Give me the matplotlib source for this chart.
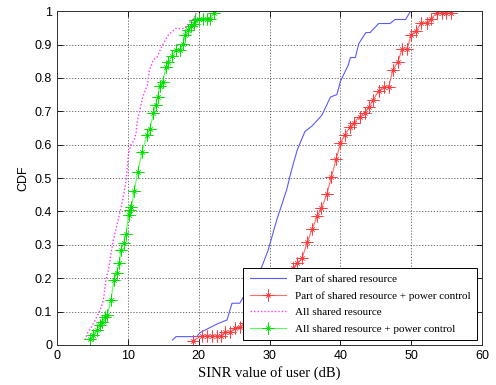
import numpy as np
import matplotlib
matplotlib.use("Agg")
import matplotlib.pyplot as plt
from matplotlib.path import Path

# CDF curves (x = SINR in dB, y = CDF)
part_x = [16.3, 16.8, 19.7, 20.2, 21.4, 22.6, 24.0, 24.7, 25.8, 27.3, 28.9, 29.8, 31.0,
          32.4, 33.1, 33.9, 35.0, 36.0, 37.4, 38.6, 39.5, 40.0, 41.1, 41.4, 42.1, 42.6,
          43.6, 44.2, 45.4, 47.0, 47.7, 49.2, 49.9]
part_y = [0.015, 0.025, 0.025, 0.037, 0.05, 0.063, 0.075, 0.125, 0.125, 0.18, 0.234, 0.284,
          0.374, 0.464, 0.524, 0.584, 0.64, 0.656, 0.689, 0.743, 0.75, 0.79, 0.838, 0.861,
          0.861, 0.903, 0.936, 0.936, 0.963, 0.963, 0.975, 0.975, 1.0]

part_pc_x = [19.2, 20.4, 21.1, 21.9, 22.6, 23.1, 23.7, 24.4, 25.1, 25.8, 26.6, 27.5, 28.5,
             29.5, 30.5, 31.5, 32.5, 33.3, 33.9, 34.6, 35.3, 36.0, 36.7, 37.3, 38.1, 38.7,
             39.4, 40.0, 40.6, 41.4, 41.9, 42.7, 43.4, 44.0, 44.6, 45.4, 46.1, 46.8, 47.4,
             48.1, 48.7, 49.4, 50.0, 50.7, 51.4, 52.2, 52.8, 53.6, 54.3, 54.9, 55.6]
part_pc_y = [0.013, 0.027, 0.027, 0.027, 0.027, 0.027, 0.038, 0.038, 0.05, 0.055, 0.065,
             0.08, 0.11, 0.14, 0.17, 0.19, 0.21, 0.23, 0.245, 0.26, 0.307, 0.346, 0.386,
             0.409, 0.452, 0.502, 0.556, 0.604, 0.629, 0.654, 0.666, 0.684, 0.696, 0.712,
             0.734, 0.761, 0.773, 0.773, 0.823, 0.848, 0.886, 0.886, 0.93, 0.941, 0.965,
             0.965, 0.978, 0.995, 0.995, 0.995, 0.995]

all_x = [3.95, 4.4, 4.9, 5.4, 6.1, 6.55, 6.9, 7.25, 7.7, 7.95, 8.4, 8.9, 9.4, 9.75, 10.1,
         10.4, 10.9, 11.15, 11.35, 11.6, 12.1, 12.75, 13.05, 13.6, 14.1, 14.55, 15.0,
         15.7, 16.7, 18.1, 18.55, 19.3, 19.5, 19.75]
all_y = [0.015, 0.04, 0.055, 0.075, 0.105, 0.135, 0.195, 0.225, 0.284, 0.314, 0.354, 0.399,
         0.449, 0.494, 0.574, 0.599, 0.614, 0.634, 0.674, 0.694, 0.743, 0.778, 0.823,
         0.855, 0.861, 0.883, 0.903, 0.928, 0.948, 0.948, 0.963, 0.978, 0.988, 1.0]

all_pc_x = [4.66, 5.1, 5.6, 6.0, 6.3, 6.8, 7.1, 7.6, 8.05, 8.4, 8.8, 9.0, 9.4, 9.75, 10.1,
            10.3, 10.5, 10.9, 11.4, 12.0, 12.7, 13.1, 13.6, 13.9, 14.2, 14.5, 14.9, 15.4,
            15.7, 16.2, 16.8, 17.4, 17.8, 18.1, 18.5, 18.9, 19.3, 19.5, 20.0, 20.6, 21.1,
            21.6, 22.1]
all_pc_y = [0.017, 0.03, 0.045, 0.06, 0.07, 0.083, 0.09, 0.135, 0.195, 0.217, 0.245, 0.284,
            0.305, 0.331, 0.39, 0.404, 0.412, 0.462, 0.519, 0.579, 0.629, 0.646, 0.694,
            0.719, 0.743, 0.775, 0.788, 0.833, 0.848, 0.865, 0.885, 0.885, 0.903, 0.928,
            0.945, 0.955, 0.963, 0.973, 0.978, 0.978, 0.978, 0.978, 0.995]

labels = ["Part of shared resource",
          "Part of shared resource + power control",
          "All shared resource",
          "All shared resource + power control"]

serif = ["Liberation Serif", "DejaVu Serif"]
sans = ["Liberation Sans", "DejaVu Sans"]

# matlab '*' look: long + arms, short x arms
d = 0.35
star = Path([(-1, 0), (1, 0), (0, -1), (0, 1), (-d, -d), (d, d), (-d, d), (d, -d)],
            [Path.MOVETO, Path.LINETO] * 4)

fig = plt.figure(figsize=(4.96, 3.85), dpi=100)
ax = fig.add_axes([0.115, 0.104, 0.857, 0.867])

ax.plot(part_x, part_y, color="#5a5aff", lw=0.8, label=labels[0])
ax.plot(part_pc_x, part_pc_y, color="#ff6a6a", lw=0.8, marker=star, ms=9,
        mec="#ff3a3a", mew=0.7, label=labels[1])
ax.plot(all_x, all_y, color="#ff33ff", lw=1.0, ls=(0, (1, 1.5)), label=labels[2])
ax.plot(all_pc_x, all_pc_y, color="#55ff55", lw=0.8, marker=star, ms=9,
        mec="#00e000", mew=0.7, label=labels[3])

ax.set_xlim(0, 60)
ax.set_ylim(0, 1)
ax.set_xticks(np.arange(0, 61, 10))
ax.set_yticks(np.arange(0, 1.01, 0.1))
ax.set_yticklabels(["0", "0.1", "0.2", "0.3", "0.4", "0.5", "0.6", "0.7", "0.8", "0.9", "1"])
ax.tick_params(direction="in", top=True, right=True, length=4, width=0.6, labelsize=9)
for lab in ax.get_xticklabels() + ax.get_yticklabels():
    lab.set_family(sans)
ax.grid(True, color="#555555", ls=(0, (1.5, 2)), lw=0.6)
for s in ax.spines.values():
    s.set_linewidth(0.7)
    s.set_color("#333333")

ax.set_xlabel("SINR value of user (dB)", family=serif, fontsize=10.5, labelpad=3)
ax.set_ylabel("CDF", family=sans, fontsize=9, labelpad=4)

leg = ax.legend(loc="lower right", bbox_to_anchor=(0.988, 0.015), borderaxespad=0,
                prop={"family": serif, "size": 8}, fancybox=False, framealpha=1,
                edgecolor="black", handlelength=3.3, labelspacing=0.62, borderpad=0.55)
leg.get_frame().set_linewidth(0.7)

fig.savefig("out.png", dpi=100)
